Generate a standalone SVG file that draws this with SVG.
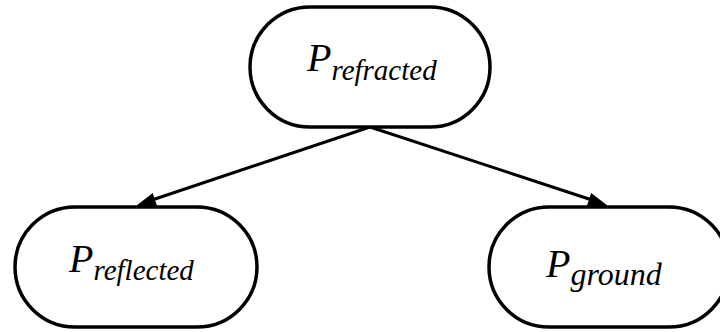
<svg xmlns="http://www.w3.org/2000/svg" width="720" height="332" viewBox="0 0 720 332">
<style>
.node{fill:#fff;stroke:#000;stroke-width:3.5}
.t{font-family:'Liberation Serif','Times New Roman',serif;font-style:italic;font-size:40px;fill:#000}
.edge{stroke:#000;stroke-width:3;fill:none}
.head{fill:#000}
</style>
<g id="connectors">
<path class="edge" d="M370,127 L152,200"/>
<path class="head" d="M136,206 L152.7,193 L157.1,206.2 z"/>
<path class="edge" d="M370,127 L592,200"/>
<path class="head" d="M608,206 L591.2,193.1 L586.8,206.3 z"/>
</g>
<g id="n-refracted">
<rect class="node" x="250" y="7" width="240" height="120" rx="60"/>
<text class="t" x="307" y="71">P<tspan font-size="29" dy="9">refracted</tspan></text>
</g>
<g id="n-reflected">
<rect class="node" x="15" y="207" width="242" height="120" rx="60"/>
<text class="t" x="69" y="272">P<tspan font-size="29" dy="8">reflected</tspan></text>
</g>
<g id="n-ground">
<rect class="node" x="489" y="207" width="240" height="120" rx="60"/>
<text class="t" x="546" y="277">P<tspan font-size="32" dy="8">ground</tspan></text>
</g>
</svg>
